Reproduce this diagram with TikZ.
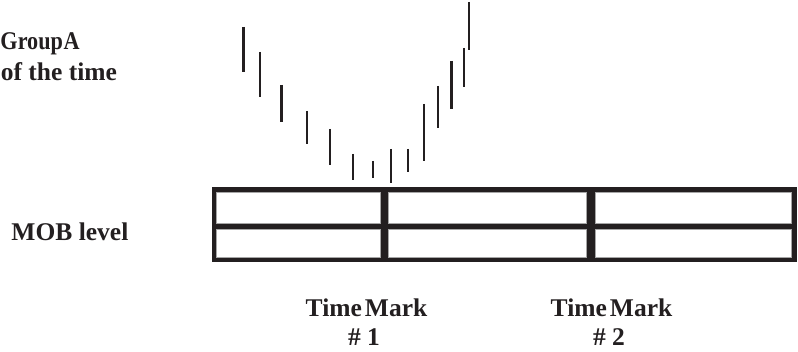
\documentclass[tikz,border=0pt]{standalone}
\usepackage{fontspec}
\usepackage{graphicx}
\setmainfont{Liberation Serif}
\definecolor{ink}{RGB}{35,31,32}
\tikzset{
  lbl/.style={inner sep=0pt, outer sep=0pt, text=ink, font=\fontsize{25.5}{29}\selectfont\bfseries},
  tick/.style={draw=ink, line width=2.5pt, line cap=butt},
  cell/.style={fill=white, draw=gray!70, line width=0.6pt}
}
\begin{document}
\begin{tikzpicture}[x=1pt,y=-1pt]
\useasboundingbox (0,0) rectangle (798,352);
\clip (0,0) rectangle (798,352);
% labels
\node[lbl, anchor=base west] (grp) at (0.5,50) {\scalebox{0.87}[1]{Group\hspace{0.03em}A}};
\node[lbl, anchor=base east] (oft) at (117,81) {of the time};
\node[lbl, anchor=base west] (mob) at (11.5,241) {MOB level};
\node[lbl, anchor=base] (tm1) at (366.5,317) {Time\hspace{0.12em}Mark};
\node[lbl, anchor=base] (n1) at (364,346) {\# 1};
\node[lbl, anchor=base] (tm2) at (611.5,317) {Time\hspace{0.12em}Mark};
\node[lbl, anchor=base] (n2) at (609,346) {\# 2};
% price bars
\foreach \x/\t/\b in {243.3/27/72, 260/52/97, 281.7/85/122, 307/111/144, 330/129/165,
  353/154/180, 373/161/178, 391/149/183, 408/149/172, 424/104/161, 438/86/128,
  451.7/61/109, 464/48/87, 469/2/50}
  \draw[tick] (\x,\t) -- (\x,\b);
% MOB level box
\fill[ink] (211.7,186.7) rectangle (796.7,262.3);
\foreach \l/\r in {216.7/380, 388/586, 595.7/791}{
  \draw[cell] (\l,192.3) rectangle (\r,223.3);
  \draw[cell] (\l,229) rectangle (\r,257.3);
}
\end{tikzpicture}
\end{document}
